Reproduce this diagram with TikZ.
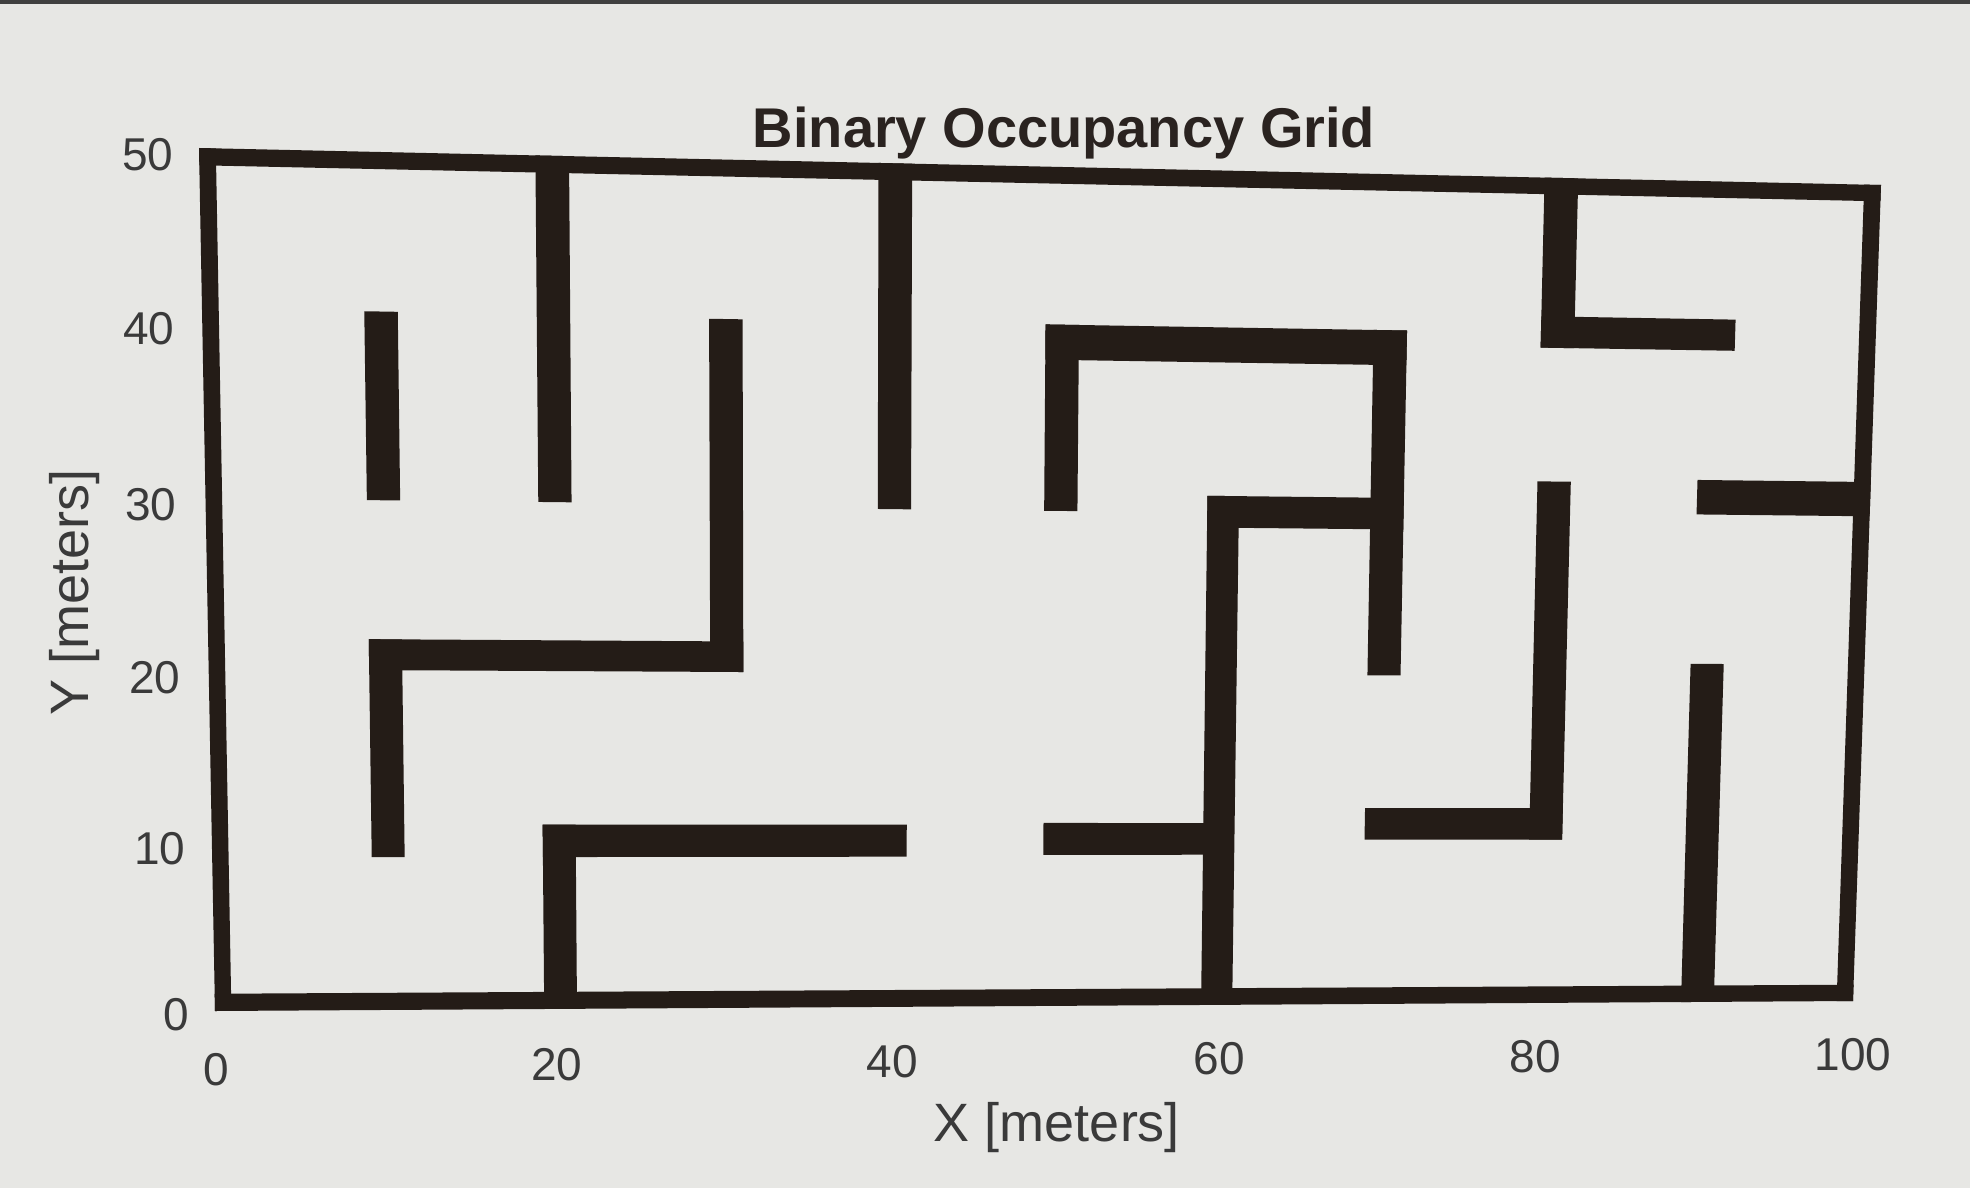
\documentclass[tikz,border=0pt]{standalone}
\usepackage{fontspec}
\setmainfont{Liberation Sans}
\definecolor{bg}{HTML}{E7E7E4}
\definecolor{wallc}{HTML}{241C17}
\definecolor{txt}{HTML}{3A3A3A}
\definecolor{ttl}{HTML}{2A2320}
\newcommand\mapxy[3]{%
  \pgfmathsetmacro\mpu{#2/100}%
  \pgfmathsetmacro\mpv{#3/50}%
  \pgfmathsetmacro\mpx{(1-\mpu)*(1-\mpv)*215+\mpu*(1-\mpv)*1853+(1-\mpu)*\mpv*199+\mpu*\mpv*1881}%
  \pgfmathsetmacro\mpy{(1-\mpu)*(1-\mpv)*1011+\mpu*(1-\mpv)*1001+(1-\mpu)*\mpv*148+\mpu*\mpv*185}%
  \coordinate (#1) at (\mpx,\mpy);}
\newcommand\wall[4]{%
  \mapxy{wa}{#1}{#2}\mapxy{wb}{#3}{#2}\mapxy{wc}{#3}{#4}\mapxy{wd}{#1}{#4}%
  \fill[wallc] (wa)--(wb)--(wc)--(wd)--cycle;}
\tikzset{
  ticklbl/.style={inner sep=0pt, text=txt, font=\fontsize{46}{46}\selectfont},
  axlbl/.style={inner sep=0pt, text=txt, font=\fontsize{54}{54}\selectfont},
  titlelbl/.style={inner sep=0pt, text=ttl, font=\fontsize{56}{56}\selectfont\bfseries},
}
\begin{document}
\begin{tikzpicture}[x=1pt,y=-1pt]
\fill[bg] (0,0) rectangle (1970,1188);
\useasboundingbox (0,0) rectangle (1970,1188);
\fill[black!75] (0,0) rectangle (1970,4);
% outer border
\wall{0}{0}{100}{1}
\wall{0}{49}{100}{50}
\wall{0}{0}{1}{50}
\wall{99}{0}{100}{50}
% inner walls
\wall{9.7}{29.7}{11.7}{40.7}
\wall{20}{29.7}{22}{50}
\wall{30.3}{19.8}{32.3}{40.6}
\wall{9.7}{19.8}{32.3}{21.6}
\wall{9.7}{8.9}{11.7}{21.6}
\wall{40.4}{29.5}{42.4}{50}
\wall{20.1}{8.9}{42.2}{10.8}
\wall{20.1}{0}{22.1}{10.8}
\wall{50.5}{9}{60.8}{10.9}
\wall{60.2}{0}{62.1}{30.5}
\wall{60.2}{28.6}{72}{30.5}
\wall{70}{19.8}{72}{40.6}
\wall{50.4}{38.5}{72}{40.6}
\wall{50.4}{29.5}{52.4}{40.6}
\wall{80}{39.7}{82}{50}
\wall{80}{39.7}{91.6}{41.6}
\wall{80}{9.9}{82}{31.6}
\wall{70}{9.9}{82}{11.8}
\wall{89.6}{29.7}{100}{31.8}
\wall{89.5}{0}{91.5}{20.6}
% title
\node[titlelbl] (title) at (1064,133) {Binary Occupancy Grid};
% y ticks
\node[ticklbl] (y50) at (148,155) {50};
\node[ticklbl] (y40) at (149,329) {40};
\node[ticklbl] (y30) at (151,505) {30};
\node[ticklbl] (y20) at (155,678) {20};
\node[ticklbl] (y10) at (160,849) {10};
\node[ticklbl] (y0) at (176,1015) {0};
% x ticks
\node[ticklbl] (x0) at (216,1070) {0};
\node[ticklbl] (x20) at (557,1065) {20};
\node[ticklbl] (x40) at (892,1062) {40};
\node[ticklbl] (x60) at (1219,1059) {60};
\node[ticklbl] (x80) at (1535,1057) {80};
\node[ticklbl] (x100) at (1853,1055) {100};
% axis labels
\node[axlbl] (xlab) at (1057,1128) {X [meters]};
\node[axlbl, rotate=90] (ylab) at (75,592) {Y [meters]};
\end{tikzpicture}
\end{document}
